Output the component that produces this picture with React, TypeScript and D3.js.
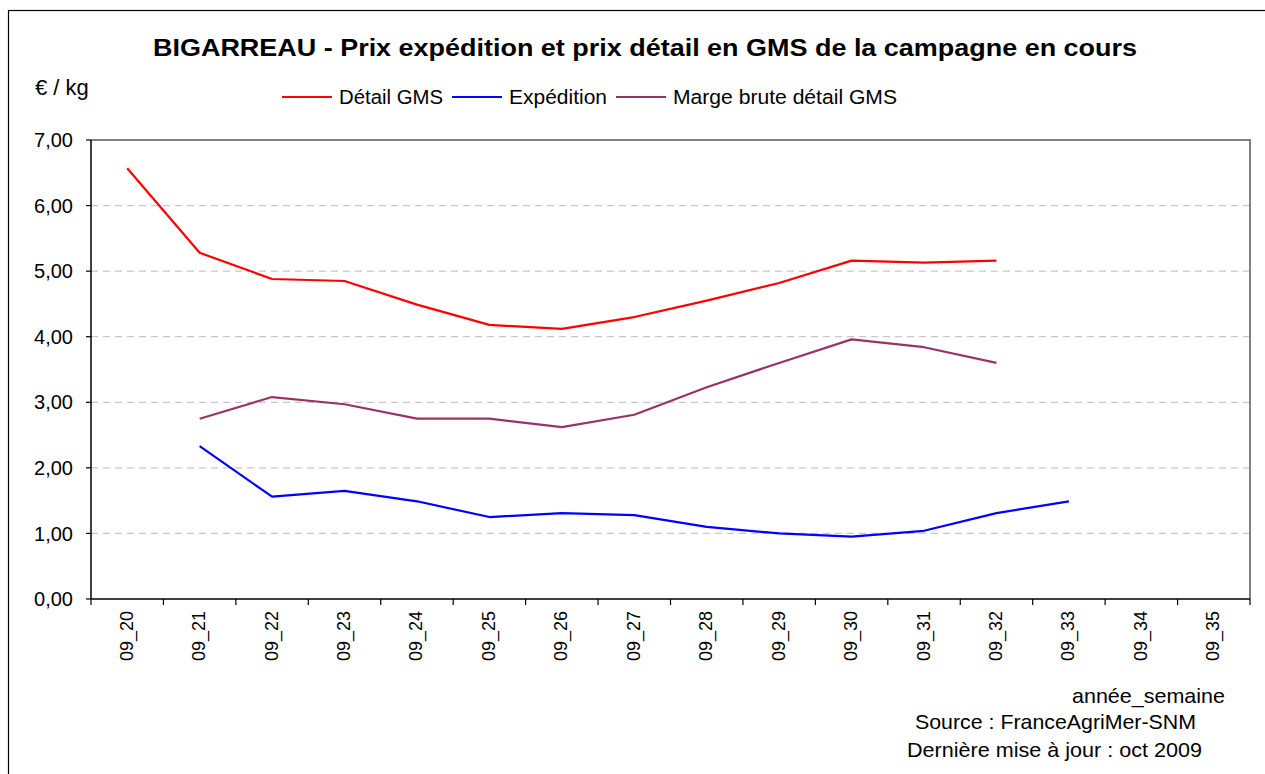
import { useRef, useEffect } from 'react';
import * as d3 from 'd3';

const WEEKS = ['09_20', '09_21', '09_22', '09_23', '09_24', '09_25', '09_26', '09_27',
  '09_28', '09_29', '09_30', '09_31', '09_32', '09_33', '09_34', '09_35'];

const DETAIL_GMS = [6.57, 5.28, 4.88, 4.85, 4.49, 4.18, 4.12, 4.30, 4.55, 4.82, 5.16, 5.13, 5.16, null, null, null];
const EXPEDITION = [null, 2.33, 1.56, 1.65, 1.49, 1.25, 1.31, 1.28, 1.10, 1.00, 0.95, 1.04, 1.31, 1.49, null, null];
const MARGE_BRUTE = [null, 2.75, 3.08, 2.97, 2.75, 2.75, 2.62, 2.81, 3.23, 3.60, 3.96, 3.84, 3.60, null, null, null];

const Y_TICKS = [0, 1, 2, 3, 4, 5, 6, 7];

const SERIES = [
  { name: 'Détail GMS', values: DETAIL_GMS, color: '#ff0000' },
  { name: 'Expédition', values: EXPEDITION, color: '#0000ff' },
  { name: 'Marge brute détail GMS', values: MARGE_BRUTE, color: '#993366' },
];

const FONT = 'Liberation Sans, Arial, sans-serif';

export default function App() {
  const svgRef = useRef<SVGSVGElement | null>(null);

  useEffect(() => {
    const svg = d3.select(svgRef.current);
    svg.selectAll('*').remove();

    const W = 1265;
    const H = 774;
    const left = 91, right = 1250, top = 140, bottom = 599;

    const x = d3.scaleBand<string>().domain(WEEKS).range([left, right]).padding(0);
    const y = d3.scaleLinear().domain([0, 7]).range([bottom, top]);
    const fmt = (v: number) => v.toFixed(2).replace('.', ',');

    svg.append('rect').attr('width', W).attr('height', H).attr('fill', '#fff');

    // outer frame
    svg.append('rect')
      .attr('x', 8.5).attr('y', 10.5)
      .attr('width', W + 20).attr('height', H + 20)
      .attr('fill', 'none').attr('stroke', '#000').attr('stroke-width', 1.2);

    // gridlines
    svg.append('g').selectAll('line')
      .data(Y_TICKS.filter(t => t > 0 && t < 7))
      .join('line')
      .attr('x1', left).attr('x2', right)
      .attr('y1', d => y(d)).attr('y2', d => y(d))
      .attr('stroke', '#c8c8c8').attr('stroke-width', 1.2)
      .attr('stroke-dasharray', '7 5');

    // plot border top & right
    svg.append('path')
      .attr('d', `M${left},${top}H${right}V${bottom}`)
      .attr('fill', 'none').attr('stroke', '#808080').attr('stroke-width', 2);

    // y axis
    const yAxis = svg.append('g');
    yAxis.append('line')
      .attr('x1', left).attr('x2', left).attr('y1', top).attr('y2', bottom)
      .attr('stroke', '#000').attr('stroke-width', 1.5);
    yAxis.selectAll('line.tick')
      .data(Y_TICKS)
      .join('line')
      .attr('class', 'tick')
      .attr('x1', left - 5).attr('x2', left)
      .attr('y1', d => y(d)).attr('y2', d => y(d))
      .attr('stroke', '#000').attr('stroke-width', 1.2);
    yAxis.selectAll('text')
      .data(Y_TICKS)
      .join('text')
      .attr('x', 73).attr('y', d => y(d))
      .attr('dy', '0.36em')
      .attr('text-anchor', 'end')
      .attr('font-family', FONT).attr('font-size', 20)
      .attr('fill', '#000')
      .text(d => fmt(d));

    // x axis
    const xAxis = svg.append('g');
    xAxis.append('line')
      .attr('x1', left).attr('x2', right).attr('y1', bottom).attr('y2', bottom)
      .attr('stroke', '#000').attr('stroke-width', 1.5);
    const bounds = [...WEEKS.map(w => x(w) as number), right];
    xAxis.selectAll('line.tick')
      .data(bounds)
      .join('line')
      .attr('class', 'tick')
      .attr('x1', d => d).attr('x2', d => d)
      .attr('y1', bottom).attr('y2', bottom + 6)
      .attr('stroke', '#000').attr('stroke-width', 1.2);
    xAxis.selectAll('text')
      .data(WEEKS)
      .join('text')
      .attr('transform', d => `translate(${(x(d) as number) + x.bandwidth() / 2 - 1},${611}) rotate(-90)`)
      .attr('dy', '0.36em')
      .attr('text-anchor', 'end')
      .attr('font-family', FONT).attr('font-size', 18)
      .attr('fill', '#000')
      .text(d => d);

    // lines
    const line = d3.line<number | null>()
      .defined(d => d != null)
      .x((_, i) => (x(WEEKS[i]) as number) + x.bandwidth() / 2)
      .y(d => y(d as number));

    svg.append('g').selectAll('path')
      .data(SERIES)
      .join('path')
      .attr('d', s => line(s.values))
      .attr('fill', 'none')
      .attr('stroke', s => s.color)
      .attr('stroke-width', 2.2)
      .attr('stroke-linejoin', 'round');

    // title
    svg.append('text')
      .attr('x', 153).attr('y', 56)
      .attr('textLength', 984).attr('lengthAdjust', 'spacingAndGlyphs')
      .attr('font-family', FONT).attr('font-size', 23).attr('font-weight', 'bold')
      .text('BIGARREAU - Prix expédition et prix détail en GMS de la campagne en cours');

    svg.append('text')
      .attr('x', 35).attr('y', 95)
      .attr('font-family', FONT).attr('font-size', 22)
      .text('€ / kg');

    // legend
    const legendX = [282, 452, 616];
    const legendW = [104, 98, 224];
    const lg = svg.append('g').selectAll('g')
      .data(SERIES)
      .join('g')
      .attr('transform', (_, i) => `translate(${legendX[i]},97)`);
    lg.append('line')
      .attr('x1', 0).attr('x2', 50)
      .attr('stroke', s => s.color).attr('stroke-width', 2.2);
    lg.append('text')
      .attr('x', 57).attr('dy', '0.36em')
      .attr('textLength', (_, i) => legendW[i]).attr('lengthAdjust', 'spacingAndGlyphs')
      .attr('font-family', FONT).attr('font-size', 20.5)
      .text(s => s.name);

    // footer
    const notes = [
      { t: 'année_semaine', x: 1072, w: 153, y: 703 },
      { t: 'Source : FranceAgriMer-SNM', x: 915, w: 281, y: 729 },
      { t: 'Dernière mise à jour : oct 2009', x: 907, w: 295, y: 757 },
    ];
    svg.append('g').selectAll('text')
      .data(notes)
      .join('text')
      .attr('x', d => d.x).attr('y', d => d.y)
      .attr('textLength', d => d.w).attr('lengthAdjust', 'spacingAndGlyphs')
      .attr('font-family', FONT).attr('font-size', 21)
      .text(d => d.t);
  }, []);

  return (
    <svg
      ref={svgRef}
      width={1265}
      height={774}
      style={{ position: 'absolute', left: 0, top: 0, display: 'block' }}
    />
  );
}
